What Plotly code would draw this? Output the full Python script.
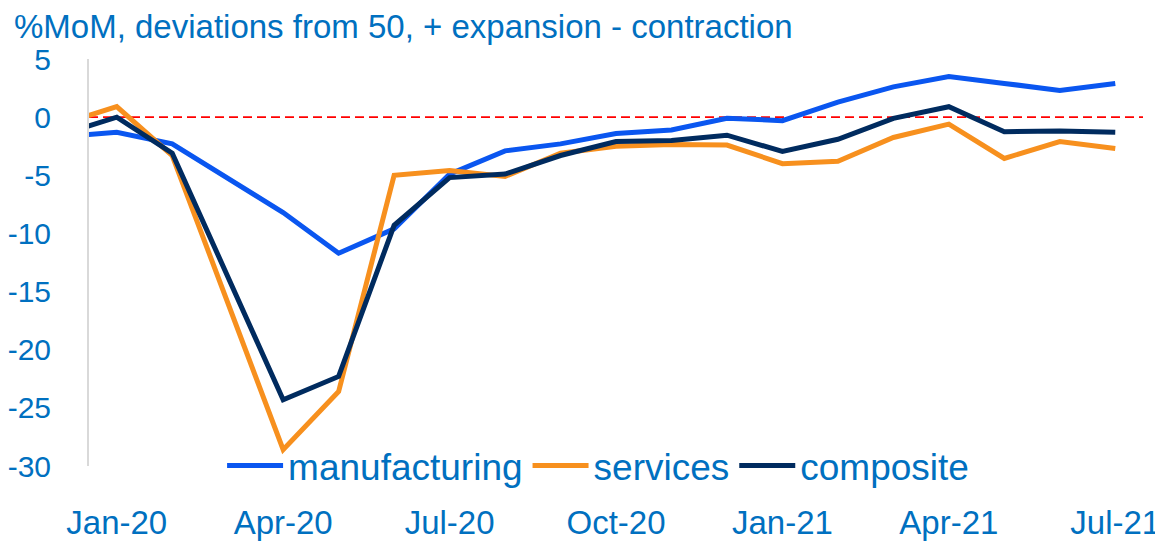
import plotly.graph_objects as go

months = ["Dec-19", "Jan-20", "Feb-20", "Mar-20", "Apr-20", "May-20", "Jun-20", "Jul-20",
          "Aug-20", "Sep-20", "Oct-20", "Nov-20", "Dec-20", "Jan-21", "Feb-21", "Mar-21",
          "Apr-21", "May-21", "Jun-21", "Jul-21"]
manufacturing = [-1.7, -1.3, -2.3, -5.3, -8.2, -11.7, -9.6, -4.9, -2.9, -2.3, -1.4, -1.1,
                 -0.1, -0.3, 1.3, 2.6, 3.5, 2.9, 2.3, 2.9]
services = [-0.6, 0.9, -3.3, -16.0, -28.6, -23.6, -5.0, -4.6, -5.1, -3.1, -2.5, -2.35,
            -2.4, -4.0, -3.8, -1.75, -0.6, -3.55, -2.1, -2.7]
composite = [-1.5, 0.0, -3.1, -13.7, -24.3, -22.3, -9.3, -5.2, -4.9, -3.3, -2.1, -2.0,
             -1.55, -2.95, -1.9, -0.1, 0.9, -1.25, -1.2, -1.3]
x_ticks = ["Jan-20", "Apr-20", "Jul-20", "Oct-20", "Jan-21", "Apr-21", "Jul-21"]
y_ticks = [5, 0, -5, -10, -15, -20, -25, -30]

TEXT = "#0070C0"
FONT = "Liberation Sans, Arial, sans-serif"

# The page body has an 8px margin, so the figure is sized to fit the window.
W, H = 1155, 536

fig = go.Figure()
fig.add_trace(go.Scatter(x=months, y=manufacturing, name="manufacturing", mode="lines",
                         line=dict(color="#0A56F0", width=5)))
fig.add_trace(go.Scatter(x=months, y=services, name="services", mode="lines",
                         line=dict(color="#F7901E", width=5)))
fig.add_trace(go.Scatter(x=months, y=composite, name="composite", mode="lines",
                         line=dict(color="#002B5F", width=5)))

fig.add_shape(type="line", xref="paper", x0=0, x1=1, yref="y", y0=0, y1=0,
              line=dict(color="#FF0000", width=1.8, dash="9px,5px"), layer="below")

fig.update_layout(
    width=W, height=H,
    margin=dict(l=81, r=20, t=51, b=78),
    paper_bgcolor="white", plot_bgcolor="white",
    font=dict(family=FONT, color=TEXT),
    title=dict(text="%MoM, deviations from 50, + expansion - contraction",
               x=6 / W, xanchor="left", y=1, yanchor="top", pad=dict(t=7),
               font=dict(size=33, color=TEXT, family=FONT)),
    showlegend=True,
    legend=dict(orientation="h", x=0.483, xanchor="center", y=0.0, yanchor="middle",
                font=dict(size=37, color=TEXT, family=FONT), itemwidth=56,
                bgcolor="rgba(0,0,0,0)", traceorder="normal"),
    xaxis=dict(type="category", range=[0.5, 19.5], tickmode="array", tickvals=x_ticks,
               ticktext=x_ticks, showgrid=False, zeroline=False, showline=False,
               ticks="", tickfont=dict(size=33, color=TEXT), ticklabelstandoff=34,
               automargin=False),
    yaxis=dict(range=[-30, 5], tickmode="array", tickvals=y_ticks,
               ticktext=[str(v) for v in y_ticks], showgrid=False, zeroline=False,
               showline=True, linecolor="#D9D9D9", linewidth=2, ticks="",
               tickfont=dict(size=30, color=TEXT), ticklabelstandoff=30,
               automargin=False),
)

fig.write_html("out.html")
